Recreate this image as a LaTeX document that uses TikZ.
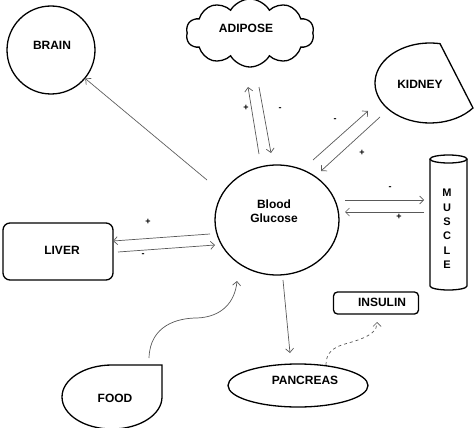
\documentclass[tikz,border=0pt]{standalone}
\usepackage{fontspec}
\setmainfont{Liberation Sans}
\usetikzlibrary{arrows.meta,shapes.geometric,shapes.symbols}
\begin{document}
\begin{tikzpicture}[x=1pt,y=-1pt,
  shp/.style={draw=black, line width=1.3pt},
  lbl/.style={font=\fontsize{12}{14}\selectfont\bfseries, inner sep=0pt},
  con/.style={draw=black!65, line width=0.7pt, -{Straight Barb[length=4pt,width=8pt]}},
  sgn/.style={font=\fontsize{9}{10}\selectfont\bfseries, inner sep=0pt}]
\useasboundingbox (0,0) rectangle (474,428);
% shapes
\node[shp, circle, minimum size=88pt, inner sep=0pt] (brain) at (51,50) {};
\node[lbl] (braint) at (52,45) {BRAIN};
\node[shp, cloud, cloud puffs=10, cloud puff arc=120, aspect=1.9, minimum width=128pt, minimum height=68pt] (adi) at (250,33) {};
\node[lbl] (adit) at (246,28) {ADIPOSE};
\coordinate (kid) at (430,83);
\draw[shp] (kid) ++(38.6:55 and 40) arc[start angle=38.6, end angle=280.5, x radius=55, y radius=40] -- cycle;
\node[lbl] (kidt) at (420,84) {KIDNEY};
\node[shp, ellipse, minimum width=124pt, minimum height=110pt, inner sep=0pt] (glu) at (277,220) {};
\node[lbl, align=center] (glut) at (274,211) {Blood\\Glucose};
\node[shp, rounded corners=7pt, minimum width=110pt, minimum height=57pt] (liver) at (58,251.5) {};
\node[lbl] (livert) at (62,250) {LIVER};
% muscle cylinder
\node[minimum width=37pt, minimum height=131pt, inner sep=0pt] (mus) at (448.5,222.5) {};
\draw[shp] (430,159) -- (430,286) arc[start angle=180, end angle=0, x radius=18.5, y radius=4] -- (467,159);
\draw[shp] (448.5,159) ellipse[x radius=18.5, y radius=4];
\node[font=\fontsize{11}{14.4}\selectfont\bfseries, align=center, inner sep=0pt] (must) at (447,229) {M\\U\\S\\C\\L\\E};
\node[shp, rounded corners=4pt, minimum width=85pt, minimum height=22pt] (ins) at (376,303) {};
\node[lbl] (inst) at (382,302) {INSULIN};
\node[shp, ellipse, minimum width=140pt, minimum height=43pt, inner sep=0pt] (pan) at (298,385.5) {};
\node[lbl] (pant) at (305,380) {PANCREAS};
\coordinate (food) at (112,397);
\draw[shp] (112,365) -- (162,365) -- (162,397) arc[start angle=0, end angle=270, x radius=50, y radius=32] -- cycle;
\node[lbl] (foodt) at (115,398) {FOOD};
% connector end points
\coordinate (b1) at (207,180);
\coordinate (a1) at (259,154); \coordinate (a2) at (248,87);
\coordinate (a3) at (259,87);  \coordinate (a4) at (271,153);
\coordinate (k1) at (313,160); \coordinate (k2) at (368,111);
\coordinate (k3) at (380,117); \coordinate (k4) at (321,171);
\coordinate (m1) at (345,200); \coordinate (m2) at (424,200);
\coordinate (m3) at (424,212); \coordinate (m4) at (345,212);
\coordinate (l1) at (210,234); \coordinate (l2) at (113,241);
\coordinate (l3) at (118,252); \coordinate (l4) at (215,245);
\coordinate (p1) at (283,280); \coordinate (p2) at (290,353);
\coordinate (f1) at (149,358); \coordinate (f2) at (237,281);
\coordinate (i1) at (326,365); \coordinate (i2) at (377,322);
% connectors
\draw[con] (b1) -- (brain);
\draw[con] (a1) -- (a2);
\draw[con] (a3) -- (a4);
\draw[con] (k1) -- (k2);
\draw[con] (k3) -- (k4);
\draw[con] (m1) -- (m2);
\draw[con] (m3) -- (m4);
\draw[con] (l1) -- (l2);
\draw[con] (l3) -- (l4);
\draw[con] (p1) -- (p2);
\draw[con] (f1) .. controls (150,325) and (178,318) .. (197,318) .. controls (222,317) and (235,302) .. (f2);
\draw[con, dashed] (i1) .. controls (326,345) and (345,345) .. (358,340) .. controls (372,335) and (377,330) .. (i2);
% signs
\node[sgn] (s1) at (148,222) {+};
\node[sgn] (s2) at (143,255) {-};
\node[sgn] (s3) at (246,108) {+};
\node[sgn] (s4) at (280,109) {-};
\node[sgn] (s5) at (335,120) {-};
\node[sgn] (s6) at (362,153) {+};
\node[sgn] (s7) at (390,188) {-};
\node[sgn] (s8) at (399,217) {+};
\end{tikzpicture}
\end{document}
